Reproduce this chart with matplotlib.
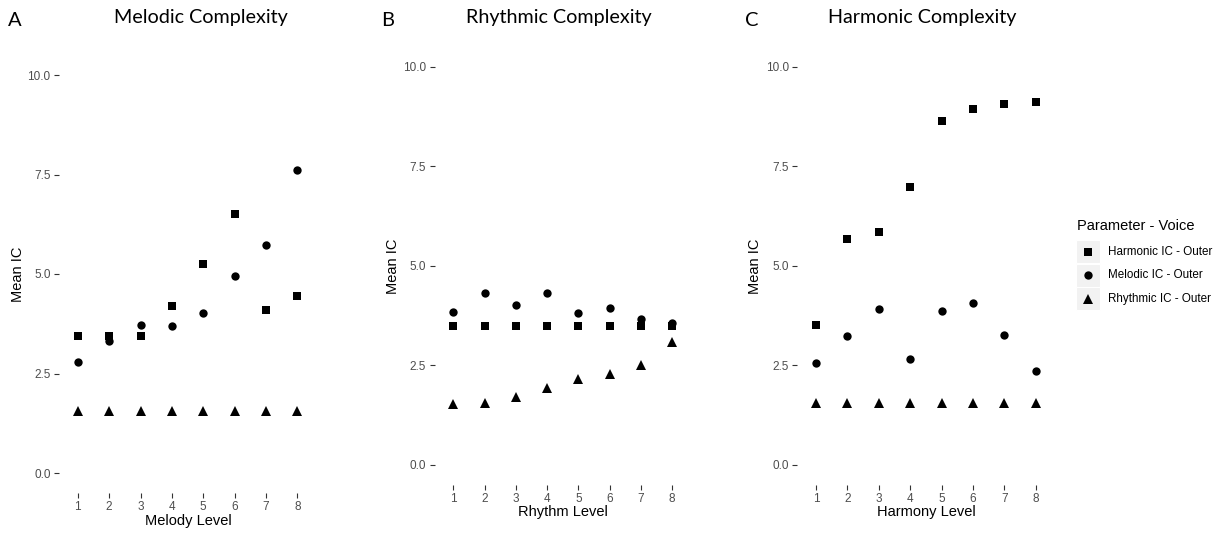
import matplotlib
matplotlib.use("Agg")
import matplotlib.pyplot as plt
from matplotlib.patches import Rectangle

# ---- data ------------------------------------------------------------------
levels = [1, 2, 3, 4, 5, 6, 7, 8]
y_ticks = [0.0, 2.5, 5.0, 7.5, 10.0]

melody_harmonic = [3.44, 3.45, 3.44, 4.20, 5.24, 6.50, 4.10, 4.45]
melody_melodic = [2.79, 3.32, 3.72, 3.69, 4.03, 4.96, 5.73, 7.61]
melody_rhythmic = [1.55, 1.55, 1.55, 1.55, 1.55, 1.55, 1.55, 1.55]

rhythm_harmonic = [3.48, 3.48, 3.48, 3.48, 3.48, 3.48, 3.48, 3.48]
rhythm_melodic = [3.84, 4.32, 4.01, 4.32, 3.82, 3.94, 3.65, 3.56]
rhythm_rhythmic = [1.52, 1.55, 1.69, 1.93, 2.16, 2.27, 2.51, 3.09]

harmony_harmonic = [3.50, 5.68, 5.85, 6.98, 8.64, 8.94, 9.05, 9.11]
harmony_melodic = [2.55, 3.23, 3.90, 2.66, 3.85, 4.05, 3.25, 2.36]
harmony_rhythmic = [1.55, 1.55, 1.55, 1.55, 1.55, 1.55, 1.55, 1.55]

series_labels = ["Harmonic IC - Outer", "Melodic IC - Outer", "Rhythmic IC - Outer"]
legend_title = "Parameter - Voice"

W, H = 1220, 535
TICK_FONT = "Liberation Sans"
TITLE_FONT = "Lato"
MARKERS = {"harmonic": ("s", 6.0), "melodic": ("o", 6.0), "rhythmic": ("^", 7.0)}

fig = plt.figure(figsize=(W / 100, H / 100), dpi=100)
fig.patch.set_facecolor("white")


def px_axes(left, top, right, bottom):
    return fig.add_axes([left / W, 1 - bottom / H, (right - left) / W, (bottom - top) / H])


def ftext(x, y, s, **kw):
    fig.text(x / W, 1 - y / H, s, **kw)


def draw_panel(box, harmonic, melodic, rhythmic):
    ax = px_axes(*box)
    for key, vals in (("melodic", melodic), ("rhythmic", rhythmic), ("harmonic", harmonic)):
        m, ms = MARKERS[key]
        ax.plot(levels, vals, linestyle="none", marker=m, markersize=ms,
                color="black", markeredgewidth=0)
    ax.set_xlim(0.4, 8.6)
    ax.set_ylim(-0.5, 10.5)
    ax.set_xticks(levels)
    ax.set_yticks(y_ticks)
    ax.set_yticklabels([f"{v:.1f}" for v in y_ticks])
    for s in ax.spines.values():
        s.set_visible(False)
    ax.tick_params(length=3.8, width=0.8, color="#333333", labelcolor="#4D4D4D",
                   labelsize=8.5, pad=2.2)
    for lab in ax.get_xticklabels() + ax.get_yticklabels():
        lab.set_fontfamily(TICK_FONT)
    return ax


draw_panel((58.9, 55.1, 316.3, 492.9), melody_harmonic, melody_melodic, melody_rhythmic)
draw_panel((434.5, 46.7, 691.0, 484.5), rhythm_harmonic, rhythm_melodic, rhythm_rhythmic)
draw_panel((797.2, 46.7, 1054.5, 484.5), harmony_harmonic, harmony_melodic, harmony_rhythmic)

# panel letters and titles
for x, y, s in ((15, 21, "A"), (388, 21, "B"), (752, 21, "C")):
    ftext(x, y, s, fontsize=14.5, family=TITLE_FONT, ha="center", va="center")
for x, y, s in ((201, 17, "Melodic Complexity"), (559, 18, "Rhythmic Complexity"),
                (922, 17, "Harmonic Complexity")):
    ftext(x, y, s, fontsize=14.2, family=TITLE_FONT, ha="center", va="center")

# axis titles
for x, y in ((18, 274), (393, 266), (755, 266)):
    ftext(x, y, "Mean IC", fontsize=10.5, family=TICK_FONT, rotation=90,
          ha="center", va="center")
for x, y, s in ((188, 521, "Melody Level"), (563, 512, "Rhythm Level"),
                (926, 512, "Harmony Level")):
    ftext(x, y, s, fontsize=10.5, family=TICK_FONT, ha="center", va="center")

# legend
lg = px_axes(1070, 205, 1220, 315)
lg.set_xlim(1070, 1220)
lg.set_ylim(315, 205)
lg.axis("off")
lg.text(1077, 226, legend_title, fontsize=10.5, family=TICK_FONT, va="center", ha="left")
for i, (key, label) in enumerate(zip(("harmonic", "melodic", "rhythmic"), series_labels)):
    yc = 252 + i * 23.5
    lg.add_patch(Rectangle((1076, yc - 11.5), 24, 23, facecolor="#F2F2F2",
                           edgecolor="white", linewidth=0.8))
    m, ms = MARKERS[key]
    lg.plot([1088], [yc], linestyle="none", marker=m, markersize=ms,
            color="black", markeredgewidth=0)
    lg.text(1108, yc, label, fontsize=8.4, family=TICK_FONT, va="center", ha="left",
            color="black")

fig.savefig("out.png", dpi=100)
